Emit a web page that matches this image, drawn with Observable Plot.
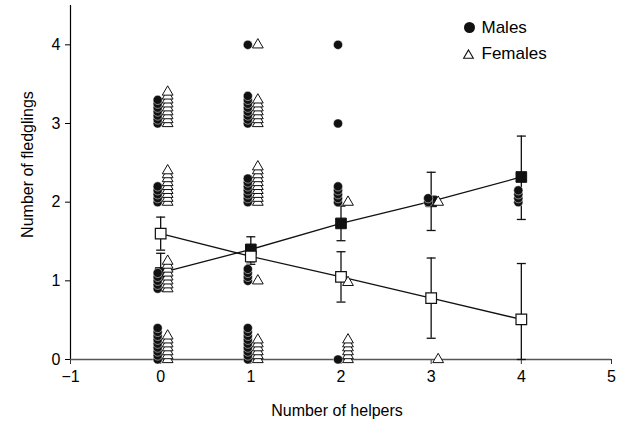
<!DOCTYPE html>
<html><head><meta charset="utf-8">
<script src="https://cdn.jsdelivr.net/npm/d3@7"></script>
<script src="https://cdn.jsdelivr.net/npm/@observablehq/plot@0.6"></script>
<style>
body{margin:0;background:#fff;}
</style></head><body><div id="chart"></div>
<script>
// Number of helpers (x categories)
const helpers = [0, 1, 2, 3, 4];
const xTicks = [-1, 0, 1, 2, 3, 4, 5];
const yTicks = [0, 1, 2, 3, 4];

// Means and error bars
const maleMean   = [1.10, 1.40, 1.73, 2.01, 2.32];
const maleLow    = [0.87, 1.24, 1.51, 1.64, 1.78];
const maleHigh   = [1.35, 1.56, 1.95, 2.38, 2.84];
const femaleMean = [1.60, 1.31, 1.05, 0.78, 0.51];
const femaleLow  = [1.39, 1.21, 0.73, 0.27, 0.00];
const femaleHigh = [1.81, 1.42, 1.37, 1.29, 1.22];

// Individual birds (stacked values), one list per number of helpers
const malesRaw = [
  [0,0.05,0.1,0.15,0.2,0.25,0.3,0.35,0.4, 0.9,0.95,1.0,1.05,1.1, 2.0,2.05,2.1,2.15,2.2, 3.0,3.05,3.1,3.15,3.2,3.25,3.3],
  [0,0.05,0.1,0.15,0.2,0.25,0.3,0.35,0.4, 1.0,1.05,1.1,1.15, 2.0,2.05,2.1,2.15,2.2,2.25,2.3, 3.0,3.05,3.1,3.15,3.2,3.25,3.3,3.35, 4.0],
  [0, 2.0,2.05,2.1,2.15,2.2, 3.0, 4.0],
  [2.0, 2.05],
  [2.0, 2.05, 2.1, 2.15]
];
const femalesRaw = [
  [0,0.05,0.1,0.15,0.2,0.25,0.3, 0.9,0.95,1.0,1.05,1.1,1.15,1.2,1.25, 2.0,2.05,2.1,2.15,2.2,2.25,2.3,2.35,2.4, 3.0,3.05,3.1,3.15,3.2,3.25,3.3,3.35,3.4],
  [0,0.05,0.1,0.15,0.2,0.25, 1.0, 2.0,2.05,2.1,2.15,2.2,2.25,2.3,2.35,2.4,2.45, 3.0,3.05,3.1,3.15,3.2,3.25,3.3, 4.0],
  [0,0.05,0.1,0.15,0.2,0.25, 0.98, 2.0],
  [0, 2.0],
  []
];

const legendLabels = ["Males", "Females"];
const xLabel = "Number of helpers";
const yLabel = "Number of fledglings";

const means = helpers.map((h, i) => ({
  h, mm: maleMean[i], ml: maleLow[i], mh: maleHigh[i],
  fm: femaleMean[i], fl: femaleLow[i], fh: femaleHigh[i]
}));
const males = malesRaw.flatMap((vals, i) => vals.map(v => ({h: helpers[i], v})));
const females = femalesRaw.flatMap((vals, i) => vals.map(v => ({h: helpers[i], v})));

const cap = {draw(ctx, size) { const r = Math.sqrt(size / Math.PI); ctx.moveTo(-r, 0); ctx.lineTo(r, 0); }};
const font = "'Liberation Sans', Arial, Helvetica, sans-serif";
const fmt = d => d < 0 ? "\u2212" + Math.abs(d) : String(d);

const chart = Plot.plot({
  width: 621, height: 426,
  marginLeft: 70, marginRight: 10, marginTop: 5, marginBottom: 67,
  style: {fontFamily: font, fontSize: "16px", color: "#000", background: "#fff", overflow: "visible"},
  x: {domain: [-1, 5]},
  y: {domain: [0, 4.5]},
  marks: [
    Plot.axisX({ticks: xTicks, tickFormat: fmt, tickSize: 5, tickPadding: 6, label: null, fontSize: 16, stroke: "#333"}),
    Plot.axisY({ticks: yTicks, tickFormat: fmt, tickSize: 5, tickPadding: 5, label: null, fontSize: 16}),
    Plot.ruleX([-1], {stroke: "#000", strokeWidth: 1.2}),
    Plot.ruleY([0], {stroke: "#555", strokeWidth: 1.6}),
    Plot.text([xLabel], {frameAnchor: "bottom", dy: 51, dx: -4, fontSize: 16, textAnchor: "middle", lineAnchor: "middle"}),
    Plot.text([yLabel], {frameAnchor: "left", rotate: -90, dx: -43, dy: -18, fontSize: 16, textAnchor: "middle", lineAnchor: "middle"}),
    // regression lines through means
    Plot.line(means, {x: "h", y: "mm", stroke: "#111", strokeWidth: 1.3}),
    Plot.line(means, {x: "h", y: "fm", stroke: "#111", strokeWidth: 1.3}),
    // error bars
    Plot.ruleX(means, {x: "h", y1: "ml", y2: "mh", stroke: "#111", strokeWidth: 1.3}),
    Plot.ruleX(means, {x: "h", y1: "fl", y2: "fh", stroke: "#111", strokeWidth: 1.3}),
    Plot.dot(means, {x: "h", y: "mh", symbol: cap, r: 4.5, stroke: "#111", strokeWidth: 1.3}),
    Plot.dot(means, {x: "h", y: "ml", symbol: cap, r: 4.5, stroke: "#111", strokeWidth: 1.3}),
    Plot.dot(means, {x: "h", y: "fh", symbol: cap, r: 4.5, stroke: "#111", strokeWidth: 1.3}),
    Plot.dot(means, {x: "h", y: "fl", symbol: cap, r: 4.5, stroke: "#111", strokeWidth: 1.3}),
    // mean squares
    Plot.dot(means, {x: "h", y: "mm", symbol: "square", r: 6, fill: "#111", stroke: "#111", strokeWidth: 1}),
    Plot.dot(means, {x: "h", y: "fm", symbol: "square", r: 6, fill: "#fff", stroke: "#111", strokeWidth: 1.2}),
    // raw data
    Plot.dot(males, {x: "h", y: "v", r: 4.6, fill: "#111", stroke: "#fff", strokeWidth: 0.5, dx: -3}),
    Plot.dot(females, {x: "h", y: "v", symbol: "triangle", r: 4, fill: "#fff", stroke: "#111", strokeWidth: 1, dx: 7}),
    // legend
    Plot.dot([legendLabels[0]], {frameAnchor: "top-left", dx: 399, dy: 22, r: 5.5, fill: "#111"}),
    Plot.dot([legendLabels[1]], {frameAnchor: "top-left", dx: 398, dy: 50, symbol: "triangle", r: 3.6, fill: "#fff", stroke: "#111", strokeWidth: 1.1}),
    Plot.text([legendLabels[0]], {frameAnchor: "top-left", dx: 411, dy: 22, textAnchor: "start", lineAnchor: "middle", fontSize: 17}),
    Plot.text([legendLabels[1]], {frameAnchor: "top-left", dx: 411, dy: 48, textAnchor: "start", lineAnchor: "middle", fontSize: 17}),
  ]
});
document.getElementById("chart").appendChild(chart);
</script>
</body></html>
